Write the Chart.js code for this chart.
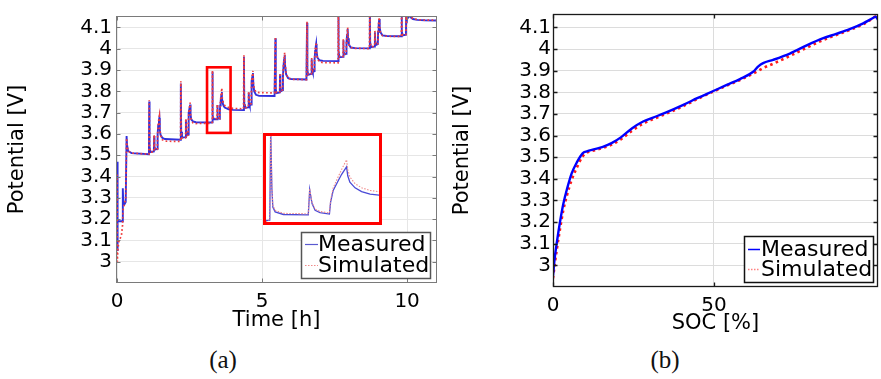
<!DOCTYPE html>
<html>
<head>
<meta charset="utf-8">
<script src="https://cdn.jsdelivr.net/npm/chart.js@4.4.1/dist/chart.umd.min.js"></script>
<style>
  html, body { margin: 0; padding: 0; background: #fff; width: 881px; height: 379px; overflow: hidden; }
  #wrap { position: relative; width: 881px; height: 379px; }
  #wrap canvas { position: absolute; display: block; }
  #cA { left: 0; top: 0; }
  #cB { left: 440px; top: 0; }
  #inset { position: absolute; left: 263px; top: 133px; width: 119px; height: 92px; box-sizing: border-box;
           border: 3px solid #ff0000; background: #fff; overflow: hidden; }
  #inset canvas { left: 0; top: 0; }
  .cap { position: absolute; top: 346px; width: 60px; text-align: center; color: #111;
         font-family: "Liberation Serif", "DejaVu Serif", serif; font-size: 25px; line-height: 28px; }
</style>
</head>
<body>
<div id="wrap">
  <canvas id="cA" width="445" height="340"></canvas>
  <canvas id="cB" width="441" height="340"></canvas>
  <div id="inset"><canvas id="cI" width="113" height="86"></canvas></div>
  <div class="cap" style="left:193px">(a)</div>
  <div class="cap" style="left:635px">(b)</div>
</div>
<script>
// ---- tick labels and series names ----
const seriesNames = ['Measured', 'Simulated'];
const timeTicks = [0, 5, 10];
const socTicks = [0, 50];
const potentialTicks = [3.0, 3.1, 3.2, 3.3, 3.4, 3.5, 3.6, 3.7, 3.8, 3.9, 4.0, 4.1];

// ---- pulse test: time [h], measured and simulated potential [V] ----
const timeH = [
  0.000, 0.010, 0.030, 0.070, 0.150, 0.190, 0.200, 0.215, 0.260, 0.300, 0.330, 0.345, 0.380, 0.500,
  1.100, 1.110, 1.122, 1.150, 1.270, 1.280, 1.292, 1.320, 1.390, 1.400, 1.420, 1.445, 1.460, 1.475, 1.500, 1.560, 1.650,
  2.190, 2.200, 2.212, 2.240, 2.365, 2.375, 2.387, 2.410, 2.450, 2.460, 2.480, 2.505, 2.520, 2.535, 2.560, 2.620, 2.720,
  3.270, 3.286, 3.290, 3.295, 3.299, 3.309, 3.344, 3.450, 3.456, 3.460, 3.466, 3.479, 3.500, 3.540, 3.545, 3.556, 3.574,
  3.592, 3.613, 3.618, 3.627, 3.649, 3.677, 3.713, 3.758, 3.850, 4.000,
  4.360, 4.375, 4.387, 4.410, 4.530, 4.540, 4.552, 4.575, 4.620, 4.630, 4.650, 4.670, 4.685, 4.700, 4.730, 4.790, 4.900,
  5.430, 5.460, 5.472, 5.500, 5.610, 5.620, 5.632, 5.660, 5.710, 5.720, 5.740, 5.760, 5.780, 5.795, 5.830, 5.900, 6.000,
  6.530, 6.550, 6.562, 6.590, 6.700, 6.710, 6.722, 6.750, 6.800, 6.810, 6.830, 6.850, 6.865, 6.880, 6.910, 6.980, 7.100,
  7.620, 7.630, 7.642, 7.670, 7.790, 7.800, 7.812, 7.840, 7.900, 7.910, 7.930, 7.950, 7.965, 7.990, 8.060, 8.200,
  8.700, 8.715, 8.727, 8.755, 8.880, 8.890, 8.902, 8.930, 8.990, 9.000, 9.020, 9.040, 9.055, 9.080, 9.150, 9.300,
  9.800, 9.810, 9.822, 9.850, 9.960, 9.970, 9.982, 10.000, 10.050, 10.120, 10.140, 10.200, 10.350, 10.600, 11.000
];
const measuredV = [
  3.470, 3.050, 3.190, 3.190, 3.190, 3.190, 3.345, 3.280, 3.270, 3.280, 3.590, 3.550, 3.520, 3.510,
  3.505, 3.752, 3.540, 3.515, 3.518, 3.590, 3.540, 3.527, 3.530, 3.600, 3.640, 3.665, 3.676, 3.620, 3.596, 3.582, 3.576,
  3.573, 3.837, 3.610, 3.583, 3.585, 3.666, 3.610, 3.594, 3.597, 3.660, 3.700, 3.725, 3.738, 3.690, 3.668, 3.659, 3.655,
  3.654, 3.655, 3.892, 3.740, 3.690, 3.677, 3.670, 3.669, 3.736, 3.720, 3.699, 3.681, 3.675, 3.671, 3.703, 3.734, 3.756,
  3.777, 3.797, 3.773, 3.756, 3.741, 3.731, 3.724, 3.721, 3.716, 3.713,
  3.712, 3.962, 3.740, 3.722, 3.725, 3.795, 3.748, 3.735, 3.738, 3.800, 3.850, 3.872, 3.886, 3.830, 3.800, 3.784, 3.779,
  3.778, 4.050, 3.810, 3.792, 3.795, 3.880, 3.820, 3.802, 3.806, 3.870, 3.920, 3.950, 3.972, 3.920, 3.880, 3.862, 3.858,
  3.856, 4.122, 3.900, 3.878, 3.882, 3.951, 3.905, 3.890, 3.895, 3.950, 3.990, 4.010, 4.023, 3.985, 3.958, 3.946, 3.943,
  3.942, 4.200, 3.985, 3.960, 3.962, 4.040, 3.990, 3.973, 3.976, 4.030, 4.065, 4.093, 4.050, 4.020, 4.006, 4.003,
  4.002, 4.200, 4.030, 4.008, 4.010, 4.078, 4.035, 4.018, 4.022, 4.080, 4.115, 4.140, 4.100, 4.078, 4.063, 4.060,
  4.059, 4.200, 4.080, 4.063, 4.066, 4.200, 4.120, 4.140, 4.150, 4.152, 4.145, 4.140, 4.136, 4.134, 4.133
];
const simulatedV = [
  3.410, 3.000, 3.060, 3.100, 3.120, 3.170, 3.220, 3.250, 3.270, 3.300, 3.580, 3.550, 3.520, 3.510,
  3.505, 3.758, 3.545, 3.515, 3.515, 3.596, 3.542, 3.525, 3.528, 3.600, 3.645, 3.672, 3.684, 3.625, 3.595, 3.573, 3.566,
  3.565, 3.848, 3.615, 3.580, 3.582, 3.672, 3.612, 3.592, 3.594, 3.660, 3.705, 3.732, 3.747, 3.695, 3.665, 3.652, 3.649,
  3.650, 3.657, 3.898, 3.745, 3.695, 3.681, 3.673, 3.672, 3.739, 3.724, 3.702, 3.684, 3.678, 3.674, 3.708, 3.741, 3.766,
  3.790, 3.816, 3.790, 3.770, 3.752, 3.741, 3.734, 3.730, 3.724, 3.720,
  3.718, 3.970, 3.745, 3.722, 3.726, 3.800, 3.752, 3.738, 3.742, 3.805, 3.857, 3.881, 3.896, 3.842, 3.812, 3.797, 3.794,
  3.793, 4.056, 3.815, 3.795, 3.797, 3.886, 3.822, 3.804, 3.808, 3.872, 3.925, 3.958, 3.982, 3.928, 3.885, 3.862, 3.857,
  3.855, 4.128, 3.905, 3.880, 3.883, 3.957, 3.908, 3.893, 3.897, 3.950, 3.995, 4.015, 4.030, 3.985, 3.952, 3.939, 3.935,
  3.934, 4.200, 3.990, 3.962, 3.964, 4.046, 3.993, 3.975, 3.978, 4.030, 4.070, 4.100, 4.055, 4.022, 4.006, 4.002,
  4.001, 4.200, 4.033, 4.010, 4.012, 4.084, 4.038, 4.020, 4.024, 4.080, 4.120, 4.148, 4.105, 4.078, 4.062, 4.059,
  4.058, 4.200, 4.082, 4.064, 4.067, 4.200, 4.120, 4.142, 4.152, 4.155, 4.148, 4.142, 4.137, 4.135, 4.134
];

// ---- potential versus state of charge ----
const socPct = [0, 0.5, 1.2, 2.2, 3.2, 4.3, 5.8, 7.4, 9.2, 10.5, 13, 15.5, 18.2, 21.3, 24.5, 28, 31.1, 35,
  40.5, 45, 49.8, 54, 58.1, 62.2, 63.8, 65.3, 68.4, 73.6, 79, 84, 88, 92.2, 96.4, 99, 100.3, 101];
const socMeasuredV = [2.950, 3.030, 3.107, 3.203, 3.284, 3.350, 3.425, 3.476, 3.518, 3.527, 3.537, 3.548, 3.565, 3.594,
  3.633, 3.665, 3.683, 3.706, 3.742, 3.774, 3.806, 3.834, 3.861, 3.895, 3.920, 3.935, 3.950, 3.979, 4.018, 4.050,
  4.070, 4.092, 4.119, 4.140, 4.150, 4.135];
const socSimulatedV = [2.940, 3.000, 3.075, 3.170, 3.255, 3.322, 3.395, 3.452, 3.503, 3.521, 3.532, 3.543, 3.558, 3.585,
  3.622, 3.655, 3.676, 3.700, 3.736, 3.770, 3.803, 3.831, 3.857, 3.887, 3.900, 3.912, 3.932, 3.968, 4.007, 4.042,
  4.065, 4.088, 4.115, 4.138, 4.150, 4.140];

// ---- magnified window ----
const zoomTime = [3.103, 3.914];
const zoomPotential = [3.605, 3.913];
const insetTime = [3.27, 3.751];
const insetPotential = [3.650, 3.879];

const FONT = 'DejaVu Sans';
Chart.defaults.font.family = FONT;
const toXY = (xs, ys) => xs.map((x, i) => ({ x: x, y: ys[i] }));
const fmt = v => String(Number(v.toFixed(1)));

// frame around the plot area with short inward tick marks on every side
const framePlugin = {
  id: 'frame',
  afterDatasetsDraw(chart, args, o) {
    const { ctx, chartArea: a, scales } = chart;
    const L = Math.round(a.left) + 0.5, R = Math.round(a.right) - 0.5;
    const T = Math.round(a.top) + 0.5, B = Math.round(a.bottom) - 0.5;
    ctx.save();
    ctx.strokeStyle = o.color;
    ctx.lineWidth = o.width;
    ctx.beginPath();
    scales.x.ticks.forEach(t => {
      const p = Math.round(scales.x.getPixelForValue(t.value)) + 0.5;
      ctx.moveTo(p, B); ctx.lineTo(p, B - o.tick);
      ctx.moveTo(p, T); ctx.lineTo(p, T + o.tick);
    });
    scales.y.ticks.forEach(t => {
      const p = Math.round(scales.y.getPixelForValue(t.value)) + 0.5;
      ctx.moveTo(L, p); ctx.lineTo(L + o.tick, p);
      ctx.moveTo(R, p); ctx.lineTo(R - o.tick, p);
    });
    ctx.stroke();
    ctx.strokeRect(L, T, R - L, B - T);
    ctx.restore();
  }
};

// boxed legend placed inside the plot area
const boxLegend = {
  id: 'boxLegend',
  afterDraw(chart, args, o) {
    const ctx = chart.ctx;
    ctx.save();
    ctx.fillStyle = '#fff';
    ctx.fillRect(o.x, o.y, o.w, o.h);
    ctx.strokeStyle = o.border;
    ctx.lineWidth = o.borderWidth;
    ctx.strokeRect(o.x + 0.5, o.y + 0.5, o.w, o.h);
    ctx.font = o.size + 'px ' + FONT;
    ctx.textBaseline = 'middle';
    o.rows.forEach(r => {
      const ds = chart.data.datasets[r.index];
      const y = o.y + r.dy;
      ctx.strokeStyle = r.color;
      ctx.lineWidth = r.width;
      ctx.setLineDash(r.dash || []);
      ctx.beginPath();
      ctx.moveTo(o.x + o.s0, y + 0.5);
      ctx.lineTo(o.x + o.s1, y + 0.5);
      ctx.stroke();
      ctx.setLineDash([]);
      ctx.fillStyle = '#000';
      ctx.fillText(ds.label, o.x + o.tx, y + 1);
    });
    ctx.restore();
  }
};

// rectangle marking the magnified window
const zoomBox = {
  id: 'zoomBox',
  afterDatasetsDraw(chart, args, o) {
    if (!o.time) return;
    const { ctx, scales } = chart;
    const l = scales.x.getPixelForValue(o.time[0]), r = scales.x.getPixelForValue(o.time[1]);
    const t = scales.y.getPixelForValue(o.potential[1]), b = scales.y.getPixelForValue(o.potential[0]);
    ctx.save();
    ctx.strokeStyle = '#ff0000';
    ctx.lineWidth = 2.6;
    ctx.strokeRect(l, t, r - l, b - t);
    ctx.restore();
  }
};

function axes(o) {
  return {
    x: {
      type: 'linear', min: o.xMin, max: o.xMax,
      afterBuildTicks: s => { s.ticks = o.xTicks.map(v => ({ value: v })); },
      afterFit: s => { s.height = o.xH; },
      ticks: { font: { size: 20 }, color: '#000', padding: o.xPad, maxRotation: 0, autoSkip: false, callback: v => String(v) },
      grid: { color: o.grid, lineWidth: 1, drawTicks: false },
      border: { display: false },
      title: { display: true, text: o.xTitle, font: { size: 21 }, color: '#000', padding: { top: 0, bottom: o.xTitleBottom } }
    },
    y: {
      type: 'linear', min: o.yMin, max: o.yMax,
      afterBuildTicks: s => { s.ticks = potentialTicks.map(v => ({ value: v })); },
      afterFit: s => { s.width = o.yW; },
      ticks: { font: { size: 20 }, color: '#000', padding: o.yPad, autoSkip: false, callback: v => fmt(v) },
      grid: { color: o.grid, lineWidth: 1, drawTicks: false },
      border: { display: false },
      title: { display: true, text: 'Potential [V]', font: { size: 21 }, color: '#000', padding: { top: o.yTitleTop, bottom: 0 } }
    }
  };
}

const common = {
  responsive: false,
  animation: false,
  events: [],
  elements: { point: { radius: 0 }, line: { tension: 0 } }
};

// (a) potential over time
new Chart(document.getElementById('cA'), {
  type: 'line',
  data: {
    datasets: [
      { label: seriesNames[0], data: toXY(timeH, measuredV), borderColor: '#3030dc', borderWidth: 1.9, order: 1 },
      { label: seriesNames[1], data: toXY(timeH, simulatedV), borderColor: '#f03c3c', borderWidth: 1.7,
        borderDash: [1.7, 2.4], order: 0 }
    ]
  },
  options: Object.assign({}, common, {
    layout: { padding: { left: 0, top: 3, right: 8, bottom: 0 } },
    scales: axes({ xMin: -0.035, xMax: 11.03, yMin: 2.9, yMax: 4.154, xTicks: timeTicks, xH: 57, yW: 116,
                   xPad: 7, yPad: 4, xTitle: 'Time [h]', xTitleBottom: 7, yTitleTop: 5, grid: '#e6e6e6' }),
    plugins: {
      legend: { display: false }, tooltip: { enabled: false },
      frame: { color: '#7a7a7a', width: 1, tick: 4 },
      zoomBox: { time: zoomTime, potential: zoomPotential },
      boxLegend: { x: 301, y: 232, w: 129, h: 46, border: '#555', borderWidth: 1.5, size: 22, s0: 4, s1: 17, tx: 17,
        rows: [ { index: 0, dy: 12, color: '#5a5ad0', width: 1.2 },
                { index: 1, dy: 33, color: '#f08a8a', width: 1.2, dash: [1.5, 1.5] } ] }
    }
  }),
  plugins: [framePlugin, zoomBox, boxLegend]
});

// magnified window of (a)
new Chart(document.getElementById('cI'), {
  type: 'line',
  data: {
    datasets: [
      { label: seriesNames[0], data: toXY(timeH, measuredV), borderColor: '#4a4ad6', borderWidth: 1.3, order: 1 },
      { label: seriesNames[1], data: toXY(timeH, simulatedV), borderColor: '#f08c8c', borderWidth: 1.1,
        borderDash: [1.5, 1.5], order: 0 }
    ]
  },
  options: Object.assign({}, common, {
    layout: { padding: 0 },
    scales: {
      x: { type: 'linear', display: false, min: insetTime[0], max: insetTime[1] },
      y: { type: 'linear', display: false, min: insetPotential[0], max: insetPotential[1] }
    },
    plugins: { legend: { display: false }, tooltip: { enabled: false } }
  })
});

// (b) potential over state of charge
new Chart(document.getElementById('cB'), {
  type: 'line',
  data: {
    datasets: [
      { label: seriesNames[0], data: toXY(socPct, socMeasuredV), borderColor: '#0000ff', borderWidth: 2.4,
        cubicInterpolationMode: 'monotone', order: 0 },
      { label: seriesNames[1], data: toXY(socPct, socSimulatedV), borderColor: '#ff1a1a', borderWidth: 2.6,
        borderDash: [2.6, 3.4], cubicInterpolationMode: 'monotone', order: 1 }
    ]
  },
  options: Object.assign({}, common, {
    layout: { padding: { left: 0, top: 2, right: 3, bottom: 0 } },
    scales: axes({ xMin: 0, xMax: 101, yMin: 2.9, yMax: 4.162, xTicks: socTicks, xH: 53, yW: 113,
                   xPad: 7, yPad: 2, xTitle: 'SOC [%]', xTitleBottom: 4, yTitleTop: 10, grid: '#dcdcdc' }),
    plugins: {
      legend: { display: false }, tooltip: { enabled: false },
      frame: { color: '#1a1a1a', width: 1.3, tick: 4 },
      boxLegend: { x: 304, y: 236, w: 129, h: 46, border: '#111', borderWidth: 1.5, size: 22, s0: 4, s1: 16, tx: 17,
        rows: [ { index: 0, dy: 13, color: '#0000ff', width: 1.5 },
                { index: 1, dy: 33, color: '#ff8080', width: 1.5, dash: [1.5, 1.5] } ] }
    }
  }),
  plugins: [framePlugin, boxLegend]
});
</script>
</body>
</html>
